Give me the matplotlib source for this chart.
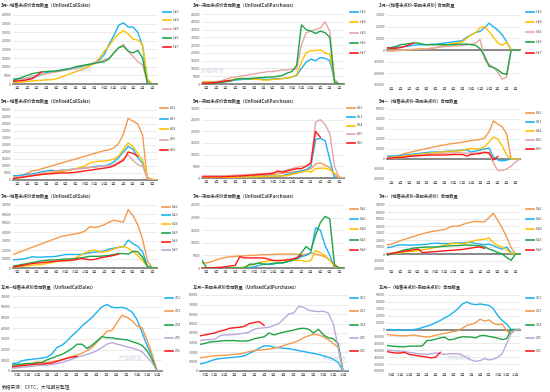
import numpy as np
import matplotlib
matplotlib.use('Agg')
import matplotlib.pyplot as plt
from matplotlib.lines import Line2D

plt.rcParams['font.family'] = ['Noto Sans CJK SC', 'DejaVu Sans']

nan = np.nan
W, H = 550, 392
# half-month steps; month labels sit in the middle of each month slot
pos = np.arange(31) * 0.5

months_h = ['1月','2月','3月','4月','5月','6月','7月','8月','9月','10月','11月','12月','1月','2月','3月']
months_k = ['3月','4月','5月','6月','7月','8月','9月','10月','11月','12月','1月','2月','3月','4月','5月']
months_n = ['5月','6月','7月','8月','9月','10月','11月','12月','1月','2月','3月','4月','5月','6月','7月']
months_z = ['10月','11月','12月','1月','2月','3月','4月','5月','6月','7月','8月','9月','10月','11月','12月']

# ---- March contracts (thousand lots) ----
h23_s = [3,3,3,3.2,3.5,4.5,5.5,6.5,7,7.5, 8,8.5,9,9.5,10,10.5,11,12,14,17, 23,28,34,35.5,33,33,30,22,2,0, 0]
h24_s = [1,1,1.2,1.5,1.8,2,2.2,2.4,2.5,3, 4,5,6,7,8,9,10.5,12,15,19, 22,26,29,31,29,26,25.5,23,3,0, 0]
h25_s = [2,2.5,3,3.5,4.5,5,5.5,6,6.5,7, 7.5,8,8.5,9,9.5,10.5,11.5,12.5,13,14, 15,18,21,23,19,16,13,11,1,0, 0]
h26_s = [2,3,4,5,6,6.5,7,7.2,7.5,7.5, 8,8.5,9,10,10.5,11,11.5,12,12.5,13, 14.5,18,21,22,19,18,19.5,15,0,0, 0]
h27_s = [1.5,1.8,2,2.5,3,5,7] + [nan] * 24

h23_p = [1,1,1,1,1.2,1.5,2,2.5,2.8,3, 3,3.2,3.2,3,3,3.2,3.5,3.5,3.8,4.5, 5.5,10,14,16,15,17,16.5,15,2,0, 0]
h24_p = [1.5,1.5,1.5,1.5,1.5,2,2.5,3,3.5,3.5, 3.5,3,3,2.5,2.5,3,3,3.5,4,4.5, 6,14,20,21.5,21.5,22,20,19,2,0, 0]
h25_p = [1,1,1,1.5,2,3,4,4.5,5,5.5, 6,6.5,7,7.5,8,8,8.5,9,9,9.5, 9.5,25,33,34,35,36,40,34,3,0, 0]
h26_p = [0.5,0.5,0.5,0.8,1,1.5,2,3,3.5,3.5, 3.5,3.8,4,4.2,4.5,4.5,5,5.5,7,8, 12,38,35,34,32.5,34,33,30,1,0, 0]
h27_p = [0.5,0.5,0.8,1,1.5,2,2.2] + [nan] * 24

h23_d = [2,2,2.5,2.5,3,3.5,4,4.5,4.5,4.5, 5,5,5.5,6,6.5,7,7.5,8,11,13, 15,16,19,23,20,17,13,7,0,0, 0]
h24_d = [-0.5,-0.5,-0.5,0,0,0,0.5,1,1,1, 1.5,2,3,4,5,5.5,6,7,10,13, 15,19,20,16,11,6,4,7,0,0, 0]
h25_d = [-1,-1,-0.5,-0.5,0,0.5,0.5,0.5,1,1, 1.5,2,2.5,3,3,3.5,3.5,4,4.5,5, 6,9,-8,-12,-15,-19,-25,-23,0,0, 0]
h26_d = [1.5,2,3,4.5,5,5.5,6,6,5,4.5, 4.5,4.5,4.5,4.5,4.5,4.5,5,5,5,4.5, 4,1,-5,-14,-15,-17,-20,-21,0,0, 0]
h27_d = [2,1.5,1.5,2,3,4.5,6] + [nan] * 24

# ---- May contracts ----
k22_s = [3,3.2,3.5,5,6.5,7,8,9,10,11, 12,13,14,15,16,17,18,19,20,21, 21.5,23,26,33,44,42,40,32,0,0, 0]
k23_s = [3,3,3.5,4,4.5,5,6,6.5,7,6.5, 7,7,7.5,8,8.5,8.5,9,9.5,10,10, 11,13,16,20,24,22,16,12,1,0, 0]
k24_s = [1,1.5,2,2.5,3,3.5,4,4.5,5,5.5, 6,6.5,7,8,9,10,12,13,13.5,13.5, 14,15,17,22,26.5,24,19,14,2,0.5, 0]
k25_s = [2,2,2.5,3,3.5,4,5,5.5,6,6.5, 7,7,7.5,8,8,8.5,9,9,9.5,10, 10,11,13,15,18,14,11,10,1,0, 0]
k26_s = [1,1.5,2,2.5,3,3.5,4,4.2,4.5,4.8, 5,5,5.2,5.5,6,6.5,7,7.5,8,8.5, 9,10,12,14,20,19,17] + [nan] * 4

k22_p = [0.3,0.3,0.3,0.3,0.4,0.5,0.5,0.6,0.7,0.8, 0.9,1,1.1,1.2,1.3,1.5,1.8,2,2.3,2.5, 2.8,3,3.5,4,6,6.5,5.5,4.5,1,0, 0]
k23_p = [0.2,0.2,0.2,0.2,0.3,0.3,0.3,0.4,0.4,0.5, 0.5,0.6,0.6,0.7,0.8,0.8,0.8,1,1.5,2, 2.5,3,3.5,5,16.5,17,16,8,0,0, 0]
k24_p = [0.2,0.2,0.2,0.2,0.2,0.3,0.3,0.3,0.4,0.4, 0.5,0.5,0.6,0.6,0.7,0.8,0.8,0.9,1,1.5, 2,2.5,3,2.5,4,4.2,4.2,3.5,2,0.5, 0]
k25_p = [1,1,1,1,1,1,1,1.2,1.3,1.4, 1.5,1.6,1.8,2,2,2.2,2.5,3,3.5,4, 4.5,5,5,6,24,25,23,19,5,0, 0]
k26_p = [0.5,0.5,0.5,0.5,0.5,0.6,0.7,0.8,0.9,1, 1.2,1.3,1.5,1.6,1.8,2,3,2.5,3,3.5, 4,4,5,6.5,20,17.5] + [nan] * 5

k22_d = [2,2.5,3,4,5.5,6.5,7.5,8.5,9.5,10.5, 11.5,12.5,13.5,14,15,15.5,16,17,17.5,18.5, 19,19.5,21,27,38,35,32,25,0,0, 0]
k23_d = [3,3,3,3.5,4,4.5,5,5.5,6,6.5, 7,7,7,7.5,8,8,8.5,9,9,7, 8,9,10,11,2,-1,-2,-1,0,0, 0]
k24_d = [1.5,1.5,2,2.5,3,3.5,4,4.5,5,5.5, 6,6.5,7,7,7.5,8,8,8.5,10,10.5, 10,10.5,12,17,22,20,13,4,0,0, 0]
k25_d = [1,1,1,1.5,2,2.5,3,3.5,4,4.5, 5,5,5.5,5.5,6,6,6.5,6,6,5.5, 6,6.5,7,5,-4,-11.5,-11.5,-10,-7,-3, 0]
k26_d = [0.5,1,1.5,1.5,2,2.5,3,3.2,3.5,3.8, 4,4,4,4,4.2,4.5,4.5,4.5,3,4.5, 5,5.5,6.5,6.5,-1,2.5] + [nan] * 5

# ---- July contracts ----
n22_s = [15,17,19,21,23,25,27,29,31,33, 35,36,37,38,39,41,46,45,46,48, 51,53,52,51,65,58,48,32,8,0, 0]
n23_s = [9,9.5,10,11,12.5,12,12,12.5,12.5,13, 14,15,15,15,15,16,17,17.5,18,19, 21,22,23,23.5,31,27,24,18,2,0, 0]
n24_s = [1,1.5,2,2.5,3,3.5,4,5,6,7, 8,9,10,11,14,17,19,20,18,18, 19,21,23,24,22,18,14,8,2,0, 0]
n25_s = [2,3,4,5,6,7,8,8.5,9,9, 9.5,10,10,10.5,11,12,13,13,13,13.5, 14,15,16,16,15.5,18.5,18,12,2,0, 0]
n26_s = [1,2,3,4,5,5.5,6,6.5,7,7.5, 8,8,8.5,9,10.5,10,9,9.5,11,12, 13,14,15.5] + [nan] * 8
n27_s = [nan] * 31

n22_p = [2,2,2.5,3.2,3.8,4.2,4.5,4.6,4.8,4.8, 5,5,5.2,5.3,5.3,5.4,5.5,5.5,5.5,5.5, 5.5,5.2,5.5,6,5.5,5,4.5,3,1.5,0, 0]
n23_p = [0,0,0,0,0,0,0,0,0,0, 0.2,0.5,1,1.5,1.5,1.5,2,2,2.5,3, 3.5,4.5,5,6,16,15,9,5,0,0, 0]
n24_p = [0,0,0,0,0,0,0,0,0,0.5, 1,1.5,2,2.5,2.8,3,2.8,3,3.5,3, 3,3,2.5,3,7,6,5,3,0.5,0, 0]
n25_p = [3,0,0,0,0,0,0,0,0,0, 1.5,1.5,2,1.5,1.5,1.8,2,2,2.5,3, 4,6,8.5,7,13,18,20.5,19.5,1,0, 0]
n26_p = [0,0,0,0.2,0.3,0.5,0.8,1,4.5,4, 4,4,4,4,3.5,3,3,3,3.2,3.5, 4,5] + [nan] * 9

n22_d = [13,14,16.5,19,21,23,25,27,29,30.5, 32,33,34,35,38,40,39.5,42,44,45.5, 46.5,46,46,52,58,48,37,24,9,0, 0]
n23_d = [9,10,12,13,13,12.5,13,13,13.5,14, 15,15.5,15,15,15,15.5,16,16,16.5,16.5, 15,14,13.5,14,12,9,7,10,2,0, 0]
n24_d = [0,0.5,1,2,3,3.5,4,5,6,7, 8,9.5,11,12.5,14,15.5,15,14.5,16,18, 19.5,20.5,21,23,16,12,10,6,1,0, 0]
n25_d = [-2,0,2,4,6,7,8.5,9,9.5,10, 10,10,10.5,11,11.5,12,12,12.5,13,12.5, 12,11.5,10.5,7,5,2,0,-5,-9,0, 0]
n26_d = [0,1,2,3,4,5,6,7,2,2.5, 3,3.5,4,4.5,5,5.5,6,6.5,7.5,8.5, 9.5,10,8] + [nan] * 8

# ---- December contracts ----
z22_s = [7,7.5,9.5,10.5,11,11.5,12,13,16,22, 24,28,33,37,42,46,50,55,60,62, 59.5,59,59.5,58,55,48,36,24,14,0, 0]
z23_s = [4,4.5,5.5,6.5,7,8.5,8,8,8.5,9.5, 10.5,12,13.5,15,16.5,19,22,27,32,37, 38,45,52,50,47,42,40.5,29,16,0, 0]
z24_s = [5.5,6,6.5,7,7,7.5,8,10.5,12,14, 15.5,18,21,25,25,21,24,28,32,31, 31,30,29.5,29,27.5,26,24,19,11,0, 0]
z25_s = [2.5,3,3.5,4,4.5,5,5.5,5.5,6,7, 8,9.5,11,13,14,15.5,17,19,22,25, 26.5,25,24,22.5,21.5,20,18,13,8,0, 0]
z26_s = [4,4.5,5,5.5,6,6.5,6.5,7,7.5,9, 10.5,12,13,13.5] + [nan] * 17

z22_p = [7.5,8.5,10.5,12,13,13.5,14,14.5,15,16, 18.5,21,24,26.5,26.5,25,24.5,24,23.5,22.5, 21.5,20.5,19.5,18.5,17.5,16,14.5,12.5,9,0, 0]
z23_p = [14,14.5,15.5,16,16.5,16.5,17,17.5,18,19, 20.5,21.5,22,22.5,23,24,25,27,28.5,30, 32,35,37,38.5,38,36,33,29,25,0, 0]
z24_p = [28,29,30.5,31,31.5,32,32,32,31.5,31.5, 32,34,35,36,40,38,39.5,41,42,43, 44.5,45,44,40,44,38,35,34,29,0, 0]
z25_p = [32,33,33,33.5,37,38,38,38.5,39,40, 41,44,45,45.5,46,48,50,55,60,61, 68,67,64,63,62.5,63,61,50,25,0, 0]
z26_p = [37,38,39,40,42,43,45,45.5,46,47, 50,51,52,48] + [nan] * 17

z22_d = [0,0,-0.5,-0.5,-1,-1,0,1,3,5, 7,10,13,17,20,25,30,37,40,37, 36,37,36,35,30,20,13,8,0,0, 0]
z23_d = [-7,-8,-8.5,-9,-9,-8.5,-8,-9,-10,-11, -10,-8,-7,-5.5,-4.5,-3,-1.5,2,6,7.5, 10,15,12,14,9,7,8,-2,-6,0, 0]
z24_d = [-23,-24,-24.5,-25,-25,-24,-24,-24,-23.5,-16, -15.5,-14,-12,-11,-15,-14,-12,-10.5,-10.5,-11, -12,-9,-8.5,-10,-11,-12.5,-14.5,-13,0,0, 0]
z25_d = [-30,-30,-31,-31.5,-32,-33,-34,-35,-35.5,-36, -35,-34,-35,-36,-35,-35,-35,-37,-41,-44, -46,-45,-42,-44,-43,-40,-35,-20,-5,0, 0]
z26_d = [-32,-33,-34,-34,-33,-36,-37,-38,-39,-40, -41,-40,-33] + [nan] * 18

BLUE, YEL, PINK, GRN, RED = '#1cb2f0', '#ffc000', '#e6a5a5', '#1fa347', '#ff1a1a'
ORG, PUR = '#f39a4e', '#b9a9da'

fig = plt.figure(figsize=(W / 100, H / 100), dpi=100)


def panel(rect, title, title_xy, ylim, ystep, xlabels, series, leg):
    l, r, t, b = rect
    ax = fig.add_axes([l / W, 1 - b / H, (r - l) / W, (b - t) / H])
    for lab, vals, c in series:
        ax.plot(pos, np.array(vals) * 1000, color=c, lw=1.0, zorder=3)
    ax.axhline(0, color='#808080', lw=1.3, zorder=2, clip_on=False)
    ax.set_xlim(0, 15)
    ax.set_ylim(*ylim)
    ax.set_yticks(np.arange(ylim[0], ylim[1] + 1, ystep))
    ax.set_yticklabels(['%d' % v for v in np.arange(ylim[0], ylim[1] + 1, ystep)])
    ax.set_xticks(np.arange(15) + 0.5)
    ax.set_xticklabels(xlabels)
    ax.tick_params(length=0, labelsize=2.5, colors='#595959', pad=1.5)
    ax.yaxis.grid(True, color='#e3e3e3', lw=0.5)
    ax.set_axisbelow(True)
    for s in ax.spines.values():
        s.set_visible(False)
    fig.text(title_xy[0] / W, 1 - title_xy[1] / H, title, fontsize=3.1,
             fontweight='bold', color='#404040', va='center')
    lx, ly, dy = leg
    for i, (lab, vals, c) in enumerate(series):
        y = 1 - (ly + i * dy) / H
        fig.add_artist(Line2D([lx / W, (lx + 8) / W], [y, y], color=c, lw=1.2))
        fig.text((lx + 10) / W, y, lab, fontsize=2.6, color='#595959', va='center')
    return ax


t_sales = '--销售未点价合同数量（UnfixedCallSales）'
t_purch = '--采购未点价合同数量（UnfixedCallPurchases）'
t_diff = '--（销售未点价-采购未点价）合同数量'

# row 1: March
panel((13, 157, 15, 84), '3月' + t_sales, (1, 5), (0, 40000), 5000, months_h,
      [('H23', h23_s, BLUE), ('H24', h24_s, YEL), ('H25', h25_s, PINK), ('H26', h26_s, GRN), ('H27', h27_s, RED)],
      (163, 11.7, 8.7))
panel((202, 344, 14, 84), '3月' + t_purch, (193, 5), (0, 45000), 5000, months_h,
      [('H23', h23_p, BLUE), ('H24', h24_p, YEL), ('H25', h25_p, PINK), ('H26', h26_p, GRN), ('H27', h27_p, RED)],
      (350, 11.7, 10.4))
panel((387, 520, 15, 85), '3月--(销售未点价-采购未点价) 合同数量', (379, 5), (-30000, 30000), 10000, months_h,
      [('H23', h23_d, BLUE), ('H24', h24_d, YEL), ('H25', h25_d, PINK), ('H26', h26_d, GRN), ('H27', h27_d, RED)],
      (526, 11.7, 10.2))

# row 2: May
panel((13, 157, 110, 180), '5月' + t_sales, (1, 101), (0, 50000), 5000, months_k,
      [('K22', k22_s, ORG), ('K23', k23_s, BLUE), ('K24', k24_s, YEL), ('K25', k25_s, PINK), ('K26', k26_s, RED)],
      (160, 108.3, 10.4))
panel((202, 344, 108, 178), '5月' + t_purch, (193, 101), (0, 30000), 5000, months_k,
      [('K22', k22_p, ORG), ('K23', k23_p, BLUE), ('K24', k24_p, YEL), ('K25', k25_p, PINK), ('K26', k26_p, RED)],
      (347, 107.7, 8.9))
panel((387, 520, 109, 179), '5月' + t_diff, (379, 101), (-20000, 50000), 10000, months_k,
      [('K22', k22_d, ORG), ('K23', k23_d, BLUE), ('K24', k24_d, YEL), ('K25', k25_d, PINK), ('K26', k26_d, RED)],
      (526, 113.3, 8.8))

# row 3: July
panel((13, 157, 205, 268), '7月' + t_sales, (1, 196), (0, 70000), 10000, months_n,
      [('N22', n22_s, ORG), ('N23', n23_s, BLUE), ('N24', n24_s, YEL), ('N25', n25_s, GRN), ('N26', n26_s, RED), ('N27', n27_s, PUR)],
      (162, 206.7, 8.7))
panel((202, 344, 205, 268), '7月' + t_purch, (193, 196), (0, 25000), 5000, months_n,
      [('N22', n22_p, ORG), ('N23', n23_p, BLUE), ('N24', n24_p, YEL), ('N25', n25_p, GRN), ('N26', n26_p, RED)],
      (350, 209, 10.2))
panel((387, 520, 205, 268), '7月' + t_diff, (379, 196), (-20000, 70000), 10000, months_n,
      [('N22', n22_d, ORG), ('N23', n23_d, BLUE), ('N24', n24_d, YEL), ('N25', n25_d, GRN), ('N26', n26_d, RED)],
      (526, 209, 10.2))

# row 4: December
panel((12, 162, 296, 371), '12月' + t_sales, (1, 287), (0, 70000), 10000, months_z,
      [('Z22', z22_s, BLUE), ('Z23', z23_s, ORG), ('Z24', z24_s, GRN), ('Z25', z25_s, PUR), ('Z26', z26_s, RED)],
      (165, 298.3, 13.1))
panel((200, 348, 295, 371), '12月' + t_purch, (193, 287), (0, 80000), 10000, months_z,
      [('Z22', z22_p, BLUE), ('Z23', z23_p, ORG), ('Z24', z24_p, GRN), ('Z25', z25_p, PUR), ('Z26', z26_p, RED)],
      (350, 298.3, 13.1))
panel((387, 520, 295, 371), '12月' + t_diff, (379, 287), (-60000, 50000), 10000, months_z,
      [('Z22', z22_d, BLUE), ('Z23', z23_d, ORG), ('Z24', z24_d, GRN), ('Z25', z25_d, PUR), ('Z26', z26_d, RED)],
      (526, 298.3, 13.1))

# faint watermarks
for wx, wy in [(68, 70), (200, 71), (118, 358), (322, 359), (447, 358)]:
    fig.text(wx / W, 1 - wy / H, '大地期货', fontsize=4.5, color='#9fb4c8', alpha=0.45, va='center')

fig.text(2 / W, 1 - 387 / H, '数据来源：CFTC，大地期货整理', fontsize=3.4, color='#404040', va='center')

fig.savefig('out.png', dpi=100, facecolor='white')
